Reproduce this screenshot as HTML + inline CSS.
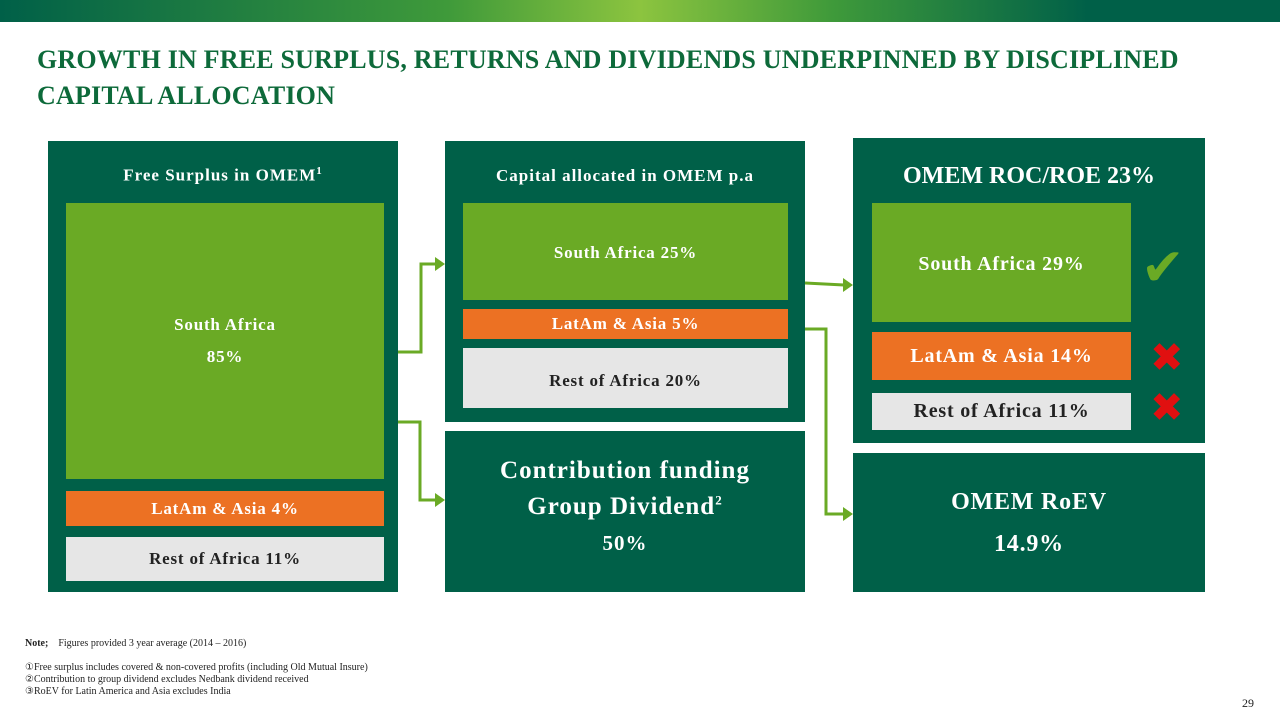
<!DOCTYPE html>
<html><head><meta charset="utf-8"><style>
body{margin:0;width:1280px;height:720px;position:relative;background:#fff;font-family:"Liberation Serif",serif;overflow:hidden}
div{position:absolute;box-sizing:border-box}
.dk{background:#006048}
.lg{background:#6aaa25;color:#fff}
.or{background:#ec7123;color:#fff}
.gr{background:#e6e6e6;color:#222}
.c{display:flex;align-items:center;justify-content:center;text-align:center;font-weight:bold;letter-spacing:0.8px}
.hd{color:#fff;font-weight:bold;text-align:center;font-size:17px;letter-spacing:1px}
</style></head><body>
<div style="left:0;top:0;width:1280px;height:22px;background:linear-gradient(90deg,#006048 0%,#3f9a3a 35%,#8cc43f 50%,#3f9a3a 65%,#006048 85%,#006048 100%)"></div>
<div style="left:37px;top:42px;width:1170px;color:#0d6a3a;font-weight:bold;font-size:26px;line-height:36px;letter-spacing:0.2px">GROWTH IN FREE SURPLUS, RETURNS AND DIVIDENDS UNDERPINNED BY DISCIPLINED CAPITAL ALLOCATION</div>

<div class="dk" style="left:48px;top:141px;width:350px;height:451px"></div>
<div class="hd" style="left:48px;top:165px;width:350px">Free Surplus in OMEM<sup style="font-size:11px">1</sup></div>
<div class="lg c" style="left:66px;top:203px;width:318px;height:276px;font-size:17px;line-height:32px">South Africa<br>85%</div>
<div class="or c" style="left:66px;top:491px;width:318px;height:35px;font-size:17px">LatAm &amp; Asia 4%</div>
<div class="gr c" style="left:66px;top:537px;width:318px;height:44px;font-size:17px">Rest of Africa 11%</div>

<div class="dk" style="left:445px;top:141px;width:360px;height:281px"></div>
<div class="hd" style="left:445px;top:166px;width:360px">Capital allocated in OMEM p.a</div>
<div class="lg" style="left:463px;top:203px;width:325px;height:97px;font-size:17px;font-weight:bold;text-align:center;padding-top:40px;letter-spacing:0.8px">South Africa 25%</div>
<div class="or c" style="left:463px;top:309px;width:325px;height:30px;font-size:17px">LatAm &amp; Asia 5%</div>
<div class="gr c" style="left:463px;top:348px;width:325px;height:60px;font-size:17px;padding-top:6px">Rest of Africa 20%</div>

<div class="dk" style="left:445px;top:431px;width:360px;height:161px;color:#fff;font-size:25px;line-height:36px;font-weight:bold;text-align:center;padding-top:22px;letter-spacing:1px">Contribution funding<br>Group Dividend<sup style="font-size:13px;line-height:0">2</sup><br><span style="font-size:21px">50%</span></div>

<div class="dk" style="left:853px;top:138px;width:352px;height:305px"></div>
<div class="hd" style="left:853px;top:163px;width:352px;font-size:24px;letter-spacing:0px">OMEM ROC/ROE 23%</div>
<div class="lg c" style="left:872px;top:203px;width:259px;height:119px;font-size:20px;padding-top:4px">South Africa 29%</div>
<div class="or c" style="left:872px;top:332px;width:259px;height:48px;font-size:20px">LatAm &amp; Asia 14%</div>
<div class="gr c" style="left:872px;top:393px;width:259px;height:37px;font-size:20px">Rest of Africa 11%</div>
<div style="left:1141px;top:242px;color:#6aaa25;font-size:52px;line-height:52px;font-family:'DejaVu Sans',sans-serif">✔</div>
<div style="left:1150px;top:338px;color:#e01010;font-size:40px;line-height:40px;font-family:'DejaVu Sans',sans-serif">✖</div>
<div style="left:1150px;top:388px;color:#e01010;font-size:40px;line-height:40px;font-family:'DejaVu Sans',sans-serif">✖</div>

<div class="dk c" style="left:853px;top:453px;width:352px;height:139px;color:#fff;font-size:24px;line-height:42px">OMEM RoEV<br>14.9%</div>

<svg style="position:absolute;left:0;top:0" width="1280" height="720">
<g fill="none" stroke="#6aaa25" stroke-width="3">
<polyline points="398,352 421,352 421,264 436,264"/>
<polyline points="398,422 420,422 420,500 436,500"/>
<polyline points="805,283 844,285"/>
<polyline points="805,329 826,329 826,514 844,514"/>
</g>
<g fill="#6aaa25">
<polygon points="445,264 435,257 435,271"/>
<polygon points="445,500 435,493 435,507"/>
<polygon points="853,285 843,278 843,292"/>
<polygon points="853,514 843,507 843,521"/>
</g>
</svg>

<div style="left:25px;top:638px;font-size:10px;color:#222"><b>Note;</b>&nbsp;&nbsp;&nbsp; Figures provided 3 year average (2014 – 2016)</div>
<div style="left:25px;top:662px;font-size:10px;line-height:12px;color:#222;font-family:'Liberation Serif','DejaVu Sans',serif">①Free surplus includes covered &amp; non-covered profits (including Old Mutual Insure)<br>②Contribution to group dividend excludes Nedbank dividend received<br>③RoEV for Latin America and Asia excludes India</div>
<div style="left:1242px;top:696px;font-size:12px;color:#222">29</div>
</body></html>
